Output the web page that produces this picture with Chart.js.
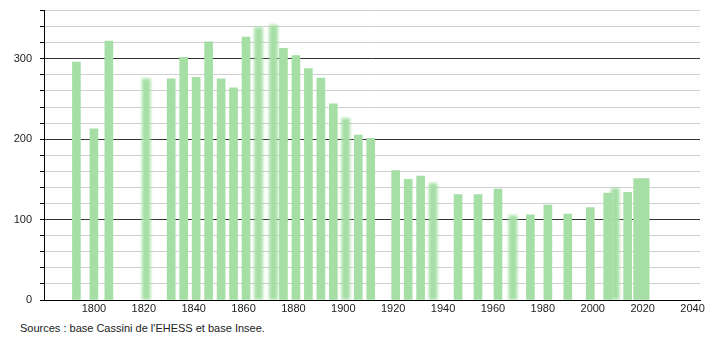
<!DOCTYPE html>
<html>
<head>
<meta charset="utf-8">
<script src="https://cdn.jsdelivr.net/npm/chart.js@4/dist/chart.umd.min.js"></script>
<style>
  html, body { margin: 0; padding: 0; background: #fff; overflow: hidden; }
  #wrap { position: relative; width: 710px; height: 340px; overflow: hidden; }
  #c { position: absolute; left: 0; top: -4px; }
  #src { position: absolute; left: 20px; top: 322px; font: 11px "Liberation Sans", Arial, sans-serif; color: #222; white-space: nowrap; }
</style>
</head>
<body>
<div id="wrap">
  <canvas id="c" width="710" height="326"></canvas>
  <div id="src">Sources : base Cassini de l'EHESS et base Insee.</div>
</div>
<script>
const years = [1793,1800,1806,1821,1831,1836,1841,1846,1851,1856,1861,1866,1872,1876,1881,1886,1891,1896,1901,1906,1911,1921,1926,1931,1936,1946,1954,1962,1968,1975,1982,1990,1999,2006,2009,2014,2018,2021];
const population = [296,213,322,275,275,302,277,321,275,264,327,339,342,313,304,288,276,244,226,205,201,161,150,154,145,131,131,138,105,106,118,107,115,133,139,134,151,151];
const blurredYears = [1821,1866,1872,1901,1936,1968,2009];
const xTickLabels = [1800,1820,1840,1860,1880,1900,1920,1940,1960,1980,2000,2020,2040];
const yTickLabels = [0,100,200,300];

const sharp = [], soft = [];
years.forEach((yr, i) => {
  (blurredYears.includes(yr) ? soft : sharp).push({x: yr, y: population[i]});
});

const barColor = '#a6dfa6';
const blurPlugin = {
  id: 'blurBars',
  beforeDatasetDraw(chart, args) {
    if (chart.data.datasets[args.index].blurred) { chart.ctx.save(); chart.ctx.filter = 'blur(1.5px)'; }
  },
  afterDatasetDraw(chart, args) {
    if (chart.data.datasets[args.index].blurred) { chart.ctx.restore(); }
  }
};

new Chart(document.getElementById('c'), {
  type: 'bar',
  data: {
    datasets: [
      { data: sharp, backgroundColor: barColor, barThickness: 8, grouped: false, blurred: false },
      { data: soft, backgroundColor: barColor, barThickness: 8, grouped: false, blurred: true }
    ]
  },
  options: {
    responsive: false,
    animation: false,
    layout: { padding: { top: 2, right: 10, left: 0, bottom: 0 } },
    plugins: { legend: { display: false }, tooltip: { enabled: false } },
    scales: {
      x: {
        type: 'linear',
        offset: false,
        min: 1780,
        max: 2043,
        afterBuildTicks(scale) { scale.ticks = xTickLabels.map(v => ({ value: v })); },
        afterFit(scale) { scale.height = 22; },
        ticks: { color: '#222', font: { family: 'Liberation Sans', size: 11 }, padding: 2, maxRotation: 0, autoSkip: false, callback: v => String(v) },
        grid: { display: false, drawTicks: false, offset: false },
        border: { display: true, color: '#000', width: 1 }
      },
      y: {
        min: 0,
        max: 360,
        afterBuildTicks(scale) {
          const t = [];
          for (let v = 0; v <= 360; v += 20) t.push({ value: v });
          scale.ticks = t;
        },
        afterFit(scale) { scale.width = 44; },
        ticks: {
          color: '#222', font: { family: 'Liberation Sans', size: 11 }, padding: 8, autoSkip: false,
          callback: v => (yTickLabels.includes(v) ? String(v) : '')
        },
        grid: {
          color: ctx => (ctx.tick && ctx.tick.value % 100 === 0 ? '#333' : '#cfcfcf'),
          tickColor: '#000',
          tickLength: 4,
          lineWidth: 1
        },
        border: { display: true, color: '#000', width: 1 }
      }
    }
  },
  plugins: [blurPlugin]
});
</script>
</body>
</html>
